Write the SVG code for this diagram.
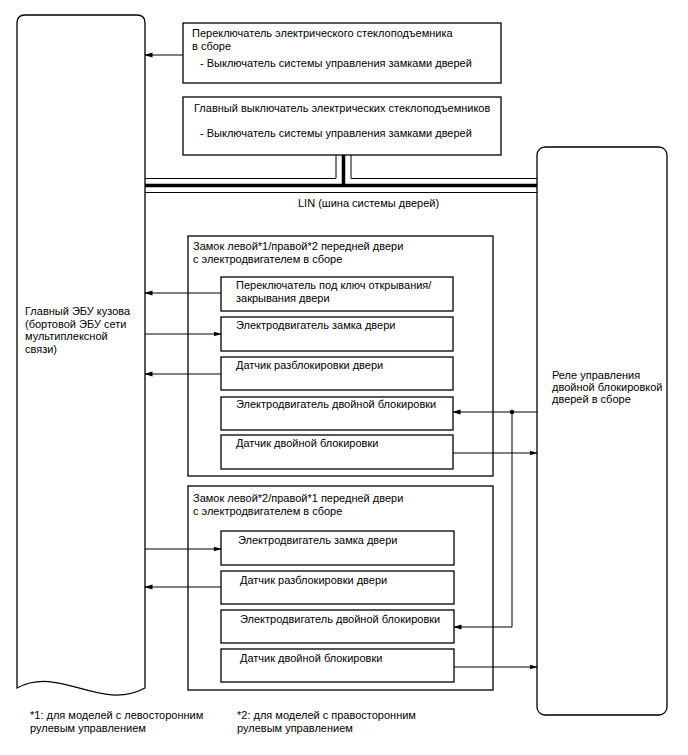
<svg xmlns="http://www.w3.org/2000/svg" width="688" height="755" viewBox="0 0 688 755">
<style>
.box{fill:#fff;stroke:#000;stroke-width:1.3}
.ln{fill:none;stroke:#000;stroke-width:1}
.t{font-family:"Liberation Sans",Arial,sans-serif;font-size:11px;fill:#000}
</style>
<defs>
<marker id="ah" markerWidth="8" markerHeight="6" refX="7.5" refY="3" orient="auto" markerUnits="userSpaceOnUse">
<path d="M0,0.5 L8,3 L0,5.5 Z" fill="#000"/>
</marker>
</defs>
<rect width="688" height="755" fill="#fff"/>

<g id="ecu">
<path class="box" d="M17,688 L17,23 Q17,15 25,15 L137,15 Q145,15 145,23 L145,688 C100,712 60,665 17,688 Z"/>
<text class="t" x="25" y="315">Главный ЭБУ кузова</text>
<text class="t" x="25" y="328">(бортовой ЭБУ сети</text>
<text class="t" x="25" y="340">мультиплексной</text>
<text class="t" x="25" y="353">связи)</text>
</g>

<g id="relay">
<rect class="box" x="537" y="147" width="130" height="568" rx="8" ry="8"/>
<text class="t" x="552" y="379">Реле управления</text>
<text class="t" x="552" y="391">двойной блокировкой</text>
<text class="t" x="552" y="403">дверей в сборе</text>
</g>

<g id="sw1">
<rect class="box" x="183" y="23" width="318" height="60"/>
<text class="t" x="192" y="37">Переключатель электрического стеклоподъемника</text>
<text class="t" x="192" y="50">в сборе</text>
<text class="t" x="200" y="67">- Выключатель системы управления замками дверей</text>
</g>

<g id="sw2">
<rect class="box" x="183" y="97" width="318" height="58"/>
<text class="t" x="194" y="112">Главный выключатель электрических стеклоподъемников</text>
<text class="t" x="200" y="137">- Выключатель системы управления замками дверей</text>
</g>

<g id="lin">
<path class="ln" d="M145,178.5 L336,178.5 L336,155"/>
<path class="ln" d="M537,178.5 L351,178.5 L351,155"/>
<path fill="none" stroke="#000" stroke-width="3.5" d="M145,185.5 L537,185.5 M343.5,155 L343.5,185.5"/>
<path class="ln" d="M145,192.5 L537,192.5"/>
<text class="t" x="298" y="207">LIN (шина системы дверей)</text>
</g>

<g id="door1">
<rect class="box" x="188" y="236" width="305" height="240"/>
<text class="t" x="193" y="250">Замок левой*1/правой*2 передней двери</text>
<text class="t" x="193" y="263">с электродвигателем в сборе</text>
</g>
<g id="d1a">
<rect class="box" x="221" y="277" width="232" height="34"/>
<text class="t" x="236" y="289">Переключатель под ключ открывания/</text>
<text class="t" x="236" y="302">закрывания двери</text>
</g>
<g id="d1b">
<rect class="box" x="221" y="317" width="232" height="34"/>
<text class="t" x="236" y="329">Электродвигатель замка двери</text>
</g>
<g id="d1c">
<rect class="box" x="221" y="357" width="232" height="33"/>
<text class="t" x="236" y="369">Датчик разблокировки двери</text>
</g>
<g id="d1d">
<rect class="box" x="221" y="397" width="232" height="33"/>
<text class="t" x="236" y="408">Электродвигатель двойной блокировки</text>
</g>
<g id="d1e">
<rect class="box" x="221" y="435" width="232" height="34"/>
<text class="t" x="236" y="447">Датчик двойной блокировки</text>
</g>

<g id="door2">
<rect class="box" x="188" y="486" width="305" height="204"/>
<text class="t" x="193" y="502">Замок левой*2/правой*1 передней двери</text>
<text class="t" x="193" y="515">с электродвигателем в сборе</text>
</g>
<g id="d2f">
<rect class="box" x="221" y="531" width="233" height="34"/>
<text class="t" x="238" y="544">Электродвигатель замка двери</text>
</g>
<g id="d2g">
<rect class="box" x="221" y="571" width="233" height="33"/>
<text class="t" x="240" y="584">Датчик разблокировки двери</text>
</g>
<g id="d2h">
<rect class="box" x="221" y="610" width="233" height="33"/>
<text class="t" x="240" y="623">Электродвигатель двойной блокировки</text>
</g>
<g id="d2i">
<rect class="box" x="221" y="649" width="233" height="33"/>
<text class="t" x="240" y="662">Датчик двойной блокировки</text>
</g>

<g id="connectors">
<path class="ln" marker-end="url(#ah)" d="M183,55 L145,55"/>
<path class="ln" marker-end="url(#ah)" d="M221,293 L145,293"/>
<path class="ln" marker-end="url(#ah)" d="M145,334 L221,334"/>
<path class="ln" marker-end="url(#ah)" d="M221,374 L145,374"/>
<path class="ln" marker-end="url(#ah)" d="M537,412 L453,412"/>
<path class="ln" marker-end="url(#ah)" d="M453,453 L537,453"/>
<path class="ln" marker-end="url(#ah)" d="M145,549 L221,549"/>
<path class="ln" marker-end="url(#ah)" d="M221,587 L145,587"/>
<path class="ln" marker-end="url(#ah)" d="M512,412 L512,627 L454,627"/>
<path class="ln" marker-end="url(#ah)" d="M454,667 L537,667"/>
<circle cx="512" cy="412" r="2.2" fill="#000"/>
</g>

<g id="notes">
<text class="t" x="30" y="719">*1: для моделей с левосторонним</text>
<text class="t" x="30" y="732">рулевым управлением</text>
<text class="t" x="237" y="719">*2: для моделей с правосторонним</text>
<text class="t" x="237" y="732">рулевым управлением</text>
</g>
</svg>
